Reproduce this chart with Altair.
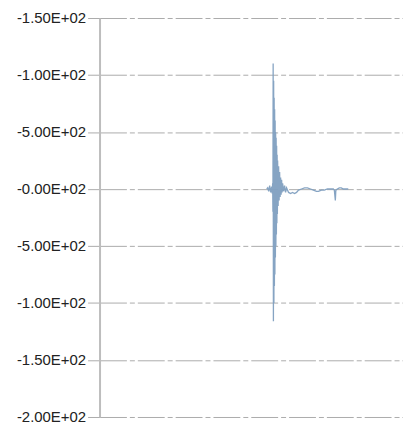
import altair as alt
import pandas as pd

# signal samples (x position index, value)
xs = [168, 169, 170, 171, 172, 173, 173.5, 174.0, 174.25, 174.5, 174.75, 175.0, 175.25, 175.5, 175.75,
      176.0, 176.25, 176.5, 176.75, 177.0, 177.25, 177.5, 177.75, 178.0, 178.25, 178.5, 178.75,
      179.0, 179.5, 180.0, 180.5, 181.0, 181.5, 182.0, 182.5, 183.0, 183.5, 184.0, 185, 186, 187,
      188, 190, 192, 194, 196, 198, 200, 203, 206, 209, 212, 215, 218, 220, 223, 226, 229, 232,
      235, 236, 237, 237.5, 239, 241, 243, 245, 247, 250]
ys = [0, 1, -2, 3, -3, 2, -4, 5, -20, 110, -116, 95, -100, 80, -85,
      70, -75, 60, -60, 50, -50, 45, -40, 38, -30, 30, -22,
      25, -15, 20, -10, 15, -7, 10, -5, 8, -3, 5, -2, 3, -3,
      1, -3, -4, -3, -4, -3, -1, 0, 1, 1, 0, -1, -2, -2, -1, -1, 0, 0,
      0, -1, -10, -1, 0, 1, 1, 0, 0, 0]

tick_values = [150, 100, 50, 0, -50, -100, -150, -200]
tick_labels = ["-1.50E+02", "-1.00E+02", "-5.00E+02", "-0.00E+02",
               "-5.00E+02", "-1.00E+02", "-1.50E+02", "-2.00E+02"]

df = pd.DataFrame({"x": xs, "y": ys})

label_expr = " : ".join(
    f"datum.value == {v} ? '{l}'" for v, l in zip(tick_values, tick_labels)
) + " : ''"

chart = alt.Chart(df).mark_line(color="#7f9fc0", strokeWidth=1.3, opacity=0.95).encode(
    x=alt.X("x:Q", scale=alt.Scale(domain=[0, 305], nice=False, zero=False), axis=None),
    y=alt.Y("y:Q", scale=alt.Scale(domain=[-200, 150], nice=False, zero=False),
            axis=alt.Axis(values=tick_values, labelExpr=label_expr, title=None,
                          grid=True, gridColor="#ababab", gridDash=[27, 3, 5, 3], gridWidth=1,
                          domainColor="#bdbdbd", domainWidth=2,
                          tickColor="#ababab", tickSize=12, tickWidth=1,
                          labelFont="Liberation Sans", labelFontSize=15, labelColor="#222",
                          labelPadding=2)),
    order="x:Q",
).properties(
    width=305, height=401,
    autosize=alt.AutoSizeParams(type="none"),
    padding={"left": 92, "top": 9, "right": 0, "bottom": 12},
).configure_view(stroke=None)

chart.save("out.html", embed_options={"renderer": "svg", "actions": False})
